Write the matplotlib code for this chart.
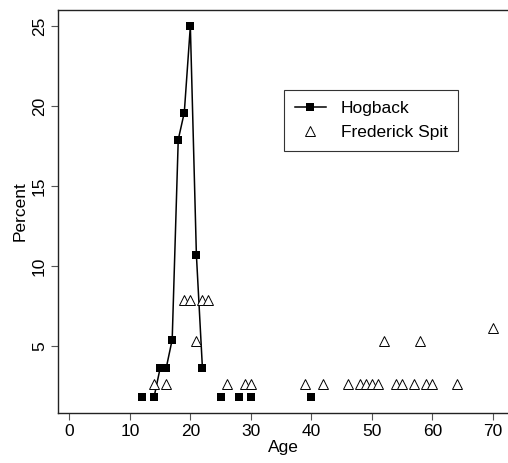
import numpy as np
import matplotlib
matplotlib.use("Agg")
from matplotlib import pyplot as plt

plt.rcParams['font.family'] = ['Liberation Sans', 'DejaVu Sans']

# Hogback: percent by age (NaN = no value, breaks the line)
hog_age = [12, 13, 14, 15, 16, 17, 18, 19, 20, 21, 22, 23, 25, 26, 28, 29, 30, 31, 40]
hog_pct = [1.8, np.nan, 1.8, 3.6, 3.6, 5.4, 17.9, 19.6, 25.0, 10.7, 3.6, np.nan,
           1.8, np.nan, 1.8, np.nan, 1.8, np.nan, 1.8]

# Frederick Spit: percent by age
fs_age = [14, 16, 19, 20, 21, 22, 23, 26, 29, 30, 39, 42, 46, 48, 49, 50, 51,
          52, 54, 55, 57, 58, 59, 60, 64, 70]
fs_pct = [2.6, 2.6, 7.9, 7.9, 5.3, 7.9, 7.9, 2.6, 2.6, 2.6, 2.6, 2.6, 2.6, 2.6,
          2.6, 2.6, 2.6, 5.3, 2.6, 2.6, 2.6, 5.3, 2.6, 2.6, 2.6, 6.1]

x_ticks = [0, 10, 20, 30, 40, 50, 60, 70]
y_ticks = [5, 10, 15, 20, 25]

fs = 12.5

fig = plt.figure(figsize=(5.08, 4.63), dpi=100)
ax = fig.add_axes([0.1142, 0.108, 0.8858, 0.870])

ax.plot(hog_age, hog_pct, color='black', lw=1.1, marker='s', markersize=6.0,
        markeredgewidth=0, label='Hogback')
ax.plot(fs_age, fs_pct, linestyle='none', marker='^', markersize=7.5,
        markerfacecolor='white', markeredgecolor='black', markeredgewidth=0.7,
        label='Frederick Spit')

ax.set_xlim(-1.87, 72.5)
ax.set_ylim(0.81, 26.0)
ax.set_xticks(x_ticks)
ax.set_yticks(y_ticks)
ax.tick_params(labelsize=fs, length=5, width=0.8, color='#555555', pad=3)
for lab in ax.get_yticklabels():
    lab.set_rotation(90)
    lab.set_va('center')

ax.spines['right'].set_visible(False)
for s in ['left', 'top', 'bottom']:
    ax.spines[s].set_linewidth(1.0)
    ax.spines[s].set_color('#222222')

ax.set_xlabel('Age', fontsize=fs, labelpad=1)
ax.set_ylabel('Percent', fontsize=fs, labelpad=3)

leg = ax.legend(loc='upper left', bbox_to_anchor=(0.502, 0.801), borderaxespad=0,
                fontsize=fs, fancybox=False, edgecolor='#333333', framealpha=1,
                handlelength=1.8, handletextpad=0.85, borderpad=0.62,
                labelspacing=0.5)
leg.get_frame().set_linewidth(0.8)

fig.savefig('out.png', dpi=100)
